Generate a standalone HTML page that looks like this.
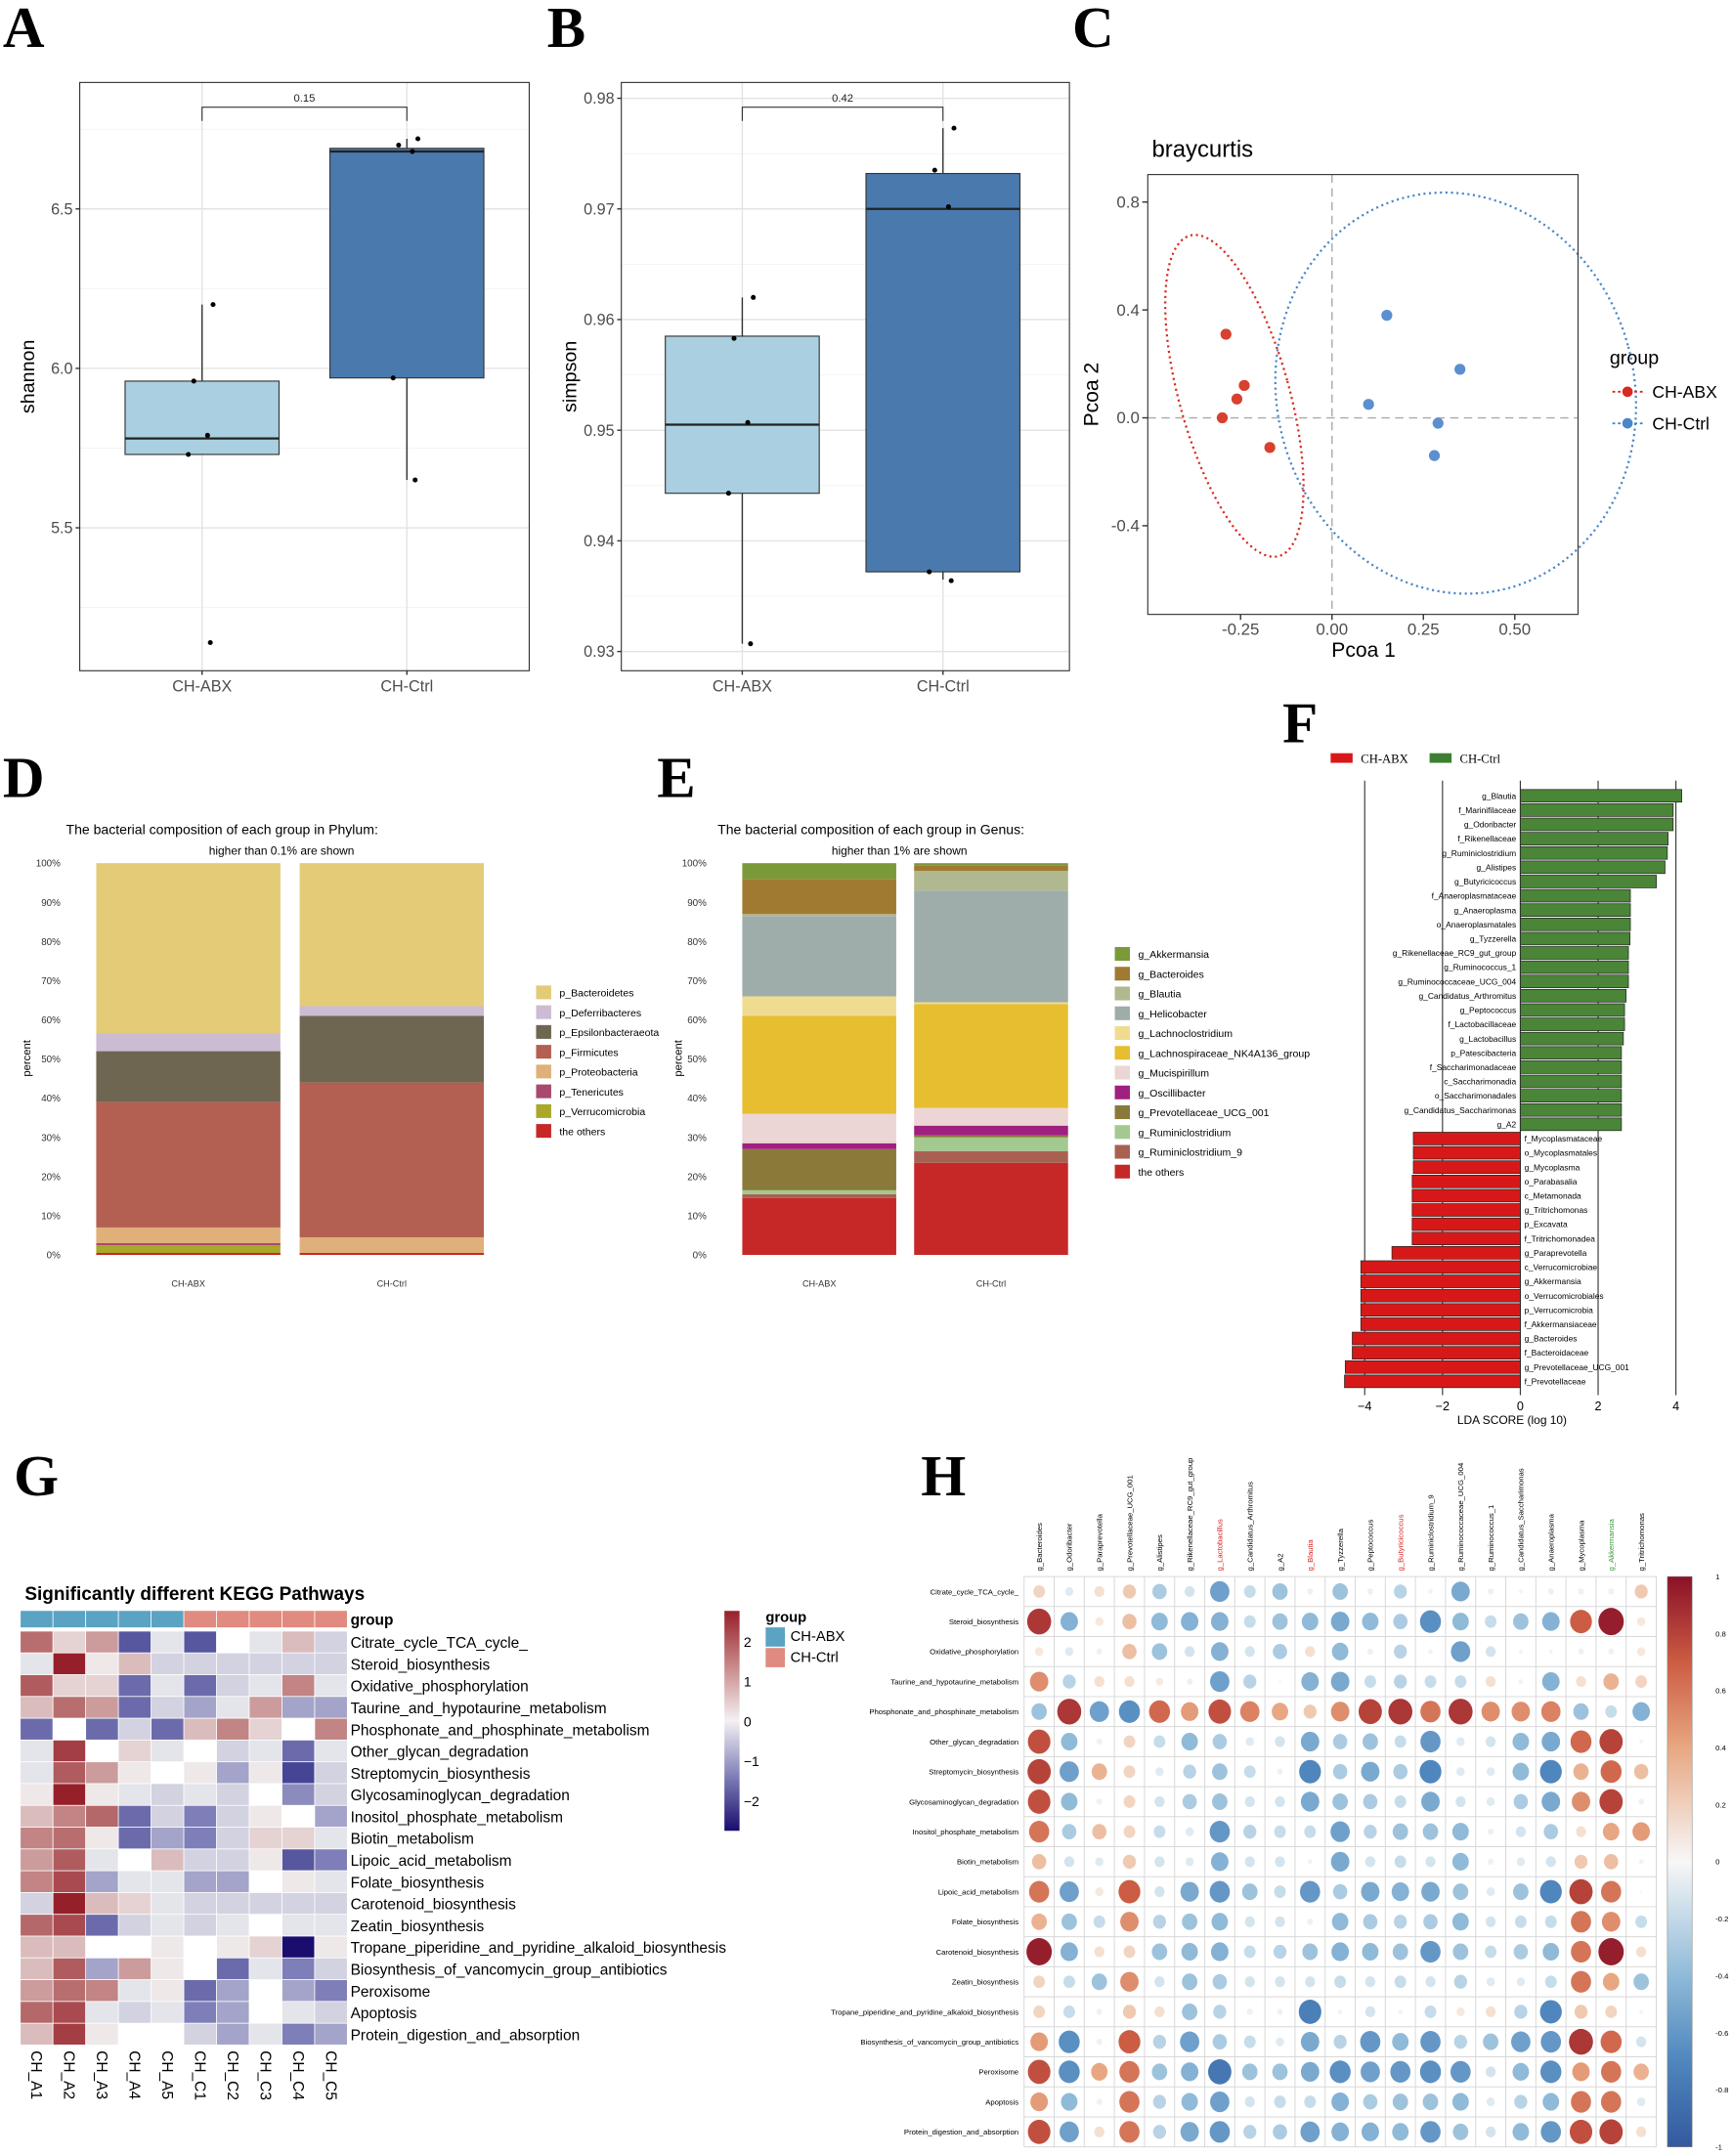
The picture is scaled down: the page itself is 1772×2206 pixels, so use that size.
<!DOCTYPE html>
<html><head><meta charset="utf-8">
<style>
html,body{margin:0;padding:0;background:#fff;}
svg{display:block;font-family:"Liberation Sans",Arial,sans-serif;}
.let{font-family:"Liberation Serif",serif;font-weight:bold;font-size:42px;}
</style></head>
<body>
<svg id="fig" width="1772" height="2206" viewBox="0 0 1260 1568.6" xmlns="http://www.w3.org/2000/svg">
<text class="let" x="2" y="34">A</text>
<text class="let" x="398" y="34">B</text>
<text class="let" x="780" y="34">C</text>
<text class="let" x="2" y="580">D</text>
<text class="let" x="478" y="580">E</text>
<text class="let" x="933" y="540">F</text>
<text class="let" x="10" y="1088">G</text>
<text class="let" x="670" y="1088">H</text>
<g id="root"></g>
</svg>
<script>
// ---------- DATA ----------
const boxGroups = ["CH-ABX","CH-Ctrl"];
const shannonPts = [[6.20,5.96,5.79,5.73,5.14],[6.72,6.70,6.68,5.97,5.65]];
const shannonBox = [[5.73,5.78,5.96,6.20,5.73],[5.97,6.68,6.69,6.72,5.65]]; // q1,med,q3,whiskerHi,whiskerLo
const shannonTicks = [5.5,6.0,6.5];
const simpsonPts = [[0.9620,0.9583,0.9507,0.9443,0.9307],[0.9773,0.9735,0.9702,0.9372,0.9364]];
const simpsonBox = [[0.9443,0.9505,0.9585,0.9620,0.9307],[0.9372,0.9700,0.9732,0.9773,0.9365]];
const simpsonTicks = [0.93,0.94,0.95,0.96,0.97,0.98];
const pcoaAbxX = [-0.29,-0.24,-0.26,-0.30,-0.17];
const pcoaAbxY = [0.31,0.12,0.07,0.00,-0.11];
const pcoaCtrlX = [0.15,0.35,0.10,0.29,0.28];
const pcoaCtrlY = [0.38,0.18,0.05,-0.02,-0.14];
const pcoaXTicks = [-0.25,0,0.25,0.5];
const pcoaYTicks = [-0.4,0,0.4,0.8];
const phylumNames = ["p_Bacteroidetes","p_Deferribacteres","p_Epsilonbacteraeota","p_Firmicutes","p_Proteobacteria","p_Tenericutes","p_Verrucomicrobia","the others"];
const phylumColors = ["#e3cb77","#cbbcd3","#6f6651","#b35f52","#e0b07a","#a9496e","#a9a82a","#c62828"];
const phylumAbx = [43.5,4.5,13,32,4,0.5,2,0.5];
const phylumCtrl = [36.5,2.5,17,39.5,4,0,0,0.5];
const genusNames = ["g_Akkermansia","g_Bacteroides","g_Blautia","g_Helicobacter","g_Lachnoclostridium","g_Lachnospiraceae_NK4A136_group","g_Mucispirillum","g_Oscillibacter","g_Prevotellaceae_UCG_001","g_Ruminiclostridium","g_Ruminiclostridium_9","the others"];
const genusColors = ["#7a9a3a","#a07a30","#b0b890","#9fadaa","#f0dc90","#e6be30","#ecd5d5","#a02080","#8a7a3a","#a3c890","#a86050","#c62828"];
const genusAbx = [4,9,0.5,20.5,5,25,7.5,1.5,10.5,1,1,14.5];
const genusCtrl = [0.5,1.5,5,28.5,0.5,26.5,4.5,2.5,0.5,3.5,3,23.5];
const pctTicks = [0,10,20,30,40,50,60,70,80,90,100];
const ldaNames = ["g_Blautia","f_Marinifilaceae","g_Odoribacter","f_Rikenellaceae","g_Ruminiclostridium","g_Alistipes","g_Butyricicoccus","f_Anaeroplasmataceae","g_Anaeroplasma","o_Anaeroplasmatales","g_Tyzzerella","g_Rikenellaceae_RC9_gut_group","g_Ruminococcus_1","g_Ruminococcaceae_UCG_004","g_Candidatus_Arthromitus","g_Peptococcus","f_Lactobacillaceae","g_Lactobacillus","p_Patescibacteria","f_Saccharimonadaceae","c_Saccharimonadia","o_Saccharimonadales","g_Candidatus_Saccharimonas","g_A2","f_Mycoplasmataceae","o_Mycoplasmatales","g_Mycoplasma","o_Parabasalia","c_Metamonada","g_Tritrichomonas","p_Excavata","f_Tritrichomonadea","g_Paraprevotella","c_Verrucomicrobiae","g_Akkermansia","o_Verrucomicrobiales","p_Verrucomicrobia","f_Akkermansiaceae","g_Bacteroides","f_Bacteroidaceae","g_Prevotellaceae_UCG_001","f_Prevotellaceae"];
const ldaScores = [4.15,3.93,3.93,3.8,3.78,3.72,3.5,2.83,2.83,2.83,2.82,2.78,2.78,2.78,2.72,2.68,2.68,2.65,2.6,2.6,2.6,2.6,2.6,2.6,-2.75,-2.75,-2.75,-2.78,-2.78,-2.78,-2.78,-2.78,-3.3,-4.1,-4.1,-4.1,-4.1,-4.1,-4.32,-4.32,-4.5,-4.52];
const ldaTicks = [-4,-2,0,2,4];
const pathways = ["Citrate_cycle_TCA_cycle_","Steroid_biosynthesis","Oxidative_phosphorylation","Taurine_and_hypotaurine_metabolism","Phosphonate_and_phosphinate_metabolism","Other_glycan_degradation","Streptomycin_biosynthesis","Glycosaminoglycan_degradation","Inositol_phosphate_metabolism","Biotin_metabolism","Lipoic_acid_metabolism","Folate_biosynthesis","Carotenoid_biosynthesis","Zeatin_biosynthesis","Tropane_piperidine_and_pyridine_alkaloid_biosynthesis","Biosynthesis_of_vancomycin_group_antibiotics","Peroxisome","Apoptosis","Protein_digestion_and_absorption"];
const samples = ["CH_A1","CH_A2","CH_A3","CH_A4","CH_A5","CH_C1","CH_C2","CH_C3","CH_C4","CH_C5"];
const keggZ = [
[1.2,0.3,0.8,-1.6,-0.1,-1.6,0,-0.1,0.5,-0.3],
[-0.1,2.5,0.1,0.5,-0.3,-0.3,-0.3,-0.3,-0.3,-0.3],
[1.5,0.3,0.3,-1.3,-0.1,-1.3,-0.3,-0.1,1.0,-0.1],
[0.5,1.2,0.8,-1.3,-0.3,-0.7,-0.1,0.8,-0.7,-0.7],
[-1.3,0,-1.3,-0.3,-1.3,0.5,1.0,0.3,0,1.0],
[-0.1,2.0,0,0.3,-0.1,0,-0.3,-0.1,-1.3,-0.1],
[-0.1,1.5,0.8,0.1,0,0.1,-0.7,0.1,-1.9,-0.3],
[0.1,2.5,0.1,-0.1,-0.3,-0.1,-0.3,0,-0.9,-0.3],
[0.5,1.0,1.3,-1.3,-0.3,-1.0,-0.3,0.1,0,-0.7],
[1.0,1.2,0.1,-1.3,-0.7,-1.0,-0.3,0.3,0.3,-0.1],
[0.8,1.5,-0.1,0,0.5,-0.3,-0.3,0.1,-1.6,-1.0],
[1.0,1.8,-0.7,-0.1,-0.1,-0.7,-0.7,0,0.1,-0.1],
[-0.3,2.5,0.5,0.3,-0.1,-0.3,-0.3,-0.3,-0.3,-0.3],
[1.3,1.8,-1.3,-0.3,-0.1,-0.3,-0.1,0,-0.1,-0.1],
[0.5,0.5,0,0,0.1,0,0.1,0.3,-3.0,0.1],
[0.5,1.5,-0.7,0.8,0.1,0,-1.3,-0.1,-1.0,-0.3],
[0.8,1.2,1.0,-0.1,0.1,-1.3,-0.7,0,-0.7,-1.0],
[1.3,1.8,-0.1,-0.3,-0.1,-1.0,-0.7,0,-0.1,-0.3],
[0.5,2.0,0.1,0,0,-0.3,-0.7,-0.1,-1.0,-0.7]];
const keggTicks = [2,1,0,-1,-2];
const genera = ["g_Bacteroides","g_Odoribacter","g_Paraprevotella","g_Prevotellaceae_UCG_001","g_Alistipes","g_Rikenellaceae_RC9_gut_group","g_Lactobacillus","g_Candidatus_Arthromitus","g_A2","g_Blautia","g_Tyzzerella","g_Peptococcus","g_Butyricicoccus","g_Ruminiclostridium_9","g_Ruminococcaceae_UCG_004","g_Ruminococcus_1","g_Candidatus_Saccharimonas","g_Anaeroplasma","g_Mycoplasma","g_Akkermansia","g_Tritrichomonas"];
const generaColor = ["#000","#000","#000","#000","#000","#000","#d62020","#000","#000","#d62020","#000","#000","#d62020","#000","#000","#000","#000","#000","#000","#3a9a3a","#000"];
const corr = [
[0.2,-0.1,0.15,0.25,-0.3,-0.15,-0.55,-0.2,-0.35,0.05,-0.35,-0.05,-0.25,-0.03,-0.5,-0.05,-0.02,-0.05,0.05,0.05,0.25],
[0.85,-0.45,0.1,0.3,-0.4,-0.45,-0.45,-0.2,-0.35,-0.4,-0.5,-0.4,-0.3,-0.65,-0.4,-0.2,-0.35,-0.45,0.7,0.95,0.1],
[0.1,-0.1,0.05,0.3,-0.35,-0.15,-0.45,-0.15,-0.3,0.15,-0.4,-0.05,-0.25,-0.03,-0.55,-0.15,-0.02,-0.02,0.05,0.05,0.1],
[0.5,-0.25,0.15,0.15,0.08,-0.05,-0.55,-0.25,-0.01,-0.45,-0.5,-0.2,-0.25,-0.2,-0.2,0.15,-0.03,-0.45,0.15,0.35,0.2],
[-0.35,0.85,-0.55,-0.65,0.65,0.45,0.75,0.55,0.4,0.25,0.5,0.8,0.85,0.6,0.85,0.5,0.5,0.55,-0.35,-0.2,-0.45],
[0.75,-0.4,0.05,0.2,-0.2,-0.4,-0.3,-0.1,-0.15,-0.5,-0.3,-0.35,-0.2,-0.6,-0.1,-0.15,-0.4,-0.5,0.65,0.8,0.02],
[0.8,-0.55,0.35,0.2,-0.1,-0.25,-0.35,-0.2,-0.05,-0.7,-0.3,-0.5,-0.3,-0.7,-0.1,-0.1,-0.4,-0.7,0.35,0.65,0.3],
[0.75,-0.4,0.05,0.2,-0.15,-0.3,-0.35,-0.15,-0.15,-0.5,-0.35,-0.3,-0.2,-0.5,-0.15,-0.1,-0.3,-0.5,0.5,0.8,0.05],
[0.6,-0.3,0.3,0.2,-0.2,-0.1,-0.6,-0.25,-0.2,-0.2,-0.55,-0.25,-0.35,-0.35,-0.4,-0.05,-0.15,-0.3,0.15,0.4,0.45],
[0.3,-0.15,-0.1,0.25,-0.15,-0.1,-0.45,-0.15,-0.15,0.03,-0.5,-0.15,-0.2,-0.15,-0.4,-0.05,-0.1,-0.15,0.25,0.3,0.03],
[0.6,-0.55,0.1,0.7,-0.15,-0.5,-0.6,-0.35,-0.2,-0.6,-0.3,-0.5,-0.45,-0.5,-0.35,-0.1,-0.35,-0.7,0.8,0.6,0.01],
[0.35,-0.35,-0.2,0.5,-0.25,-0.35,-0.4,-0.15,-0.15,-0.05,-0.4,-0.3,-0.25,-0.3,-0.4,-0.15,-0.2,-0.2,0.6,0.5,-0.2],
[0.95,-0.45,0.15,0.2,-0.35,-0.4,-0.45,-0.2,-0.25,-0.35,-0.45,-0.4,-0.35,-0.6,-0.35,-0.2,-0.3,-0.4,0.6,0.95,0.15],
[0.2,-0.2,-0.35,0.5,-0.15,-0.35,-0.3,-0.15,-0.15,-0.15,-0.2,-0.15,-0.2,-0.15,-0.25,-0.1,-0.1,-0.2,0.6,0.4,-0.35],
[0.2,-0.2,0.05,0.25,0.15,-0.35,-0.25,-0.05,-0.05,-0.75,-0.03,-0.15,-0.03,-0.2,0.1,0.15,-0.25,-0.7,0.25,0.2,0.02],
[0.45,-0.65,0.05,0.7,-0.25,-0.55,-0.3,-0.2,-0.1,-0.5,-0.25,-0.6,-0.4,-0.6,-0.25,-0.35,-0.55,-0.6,0.85,0.65,-0.15],
[0.75,-0.65,0.4,0.6,-0.35,-0.45,-0.8,-0.35,-0.35,-0.5,-0.65,-0.55,-0.6,-0.65,-0.6,-0.15,-0.4,-0.65,0.45,0.6,0.35],
[0.45,-0.4,0.05,0.6,-0.25,-0.4,-0.55,-0.15,-0.2,-0.2,-0.45,-0.3,-0.35,-0.35,-0.4,-0.1,-0.25,-0.4,0.6,0.6,-0.1],
[0.75,-0.55,0.15,0.6,-0.25,-0.5,-0.6,-0.25,-0.3,-0.55,-0.45,-0.45,-0.4,-0.6,-0.35,-0.15,-0.4,-0.6,0.75,0.8,0.15]];
const corrTicks = ["1","0.8","0.6","0.4","0.2","0","-0.2","-0.4","-0.6","-0.8","-1"];

// ---------- HELPERS ----------
const NS="http://www.w3.org/2000/svg";
const root=document.getElementById('root');
function mk(tag,attrs,parent){const e=document.createElementNS(NS,tag);for(const k in attrs)e.setAttribute(k,attrs[k]);(parent||root).appendChild(e);return e;}
function txt(s,attrs,parent){const e=mk('text',attrs,parent);e.textContent=s;return e;}
function lerpColor(stops,v){
  if(v<=stops[0][0])return stops[0][1];
  for(let i=1;i<stops.length;i++){if(v<=stops[i][0]){const a=stops[i-1],b=stops[i];const t=(v-a[0])/(b[0]-a[0]);
    const ca=[1,3,5].map(k=>parseInt(a[1].substr(k,2),16)),cb=[1,3,5].map(k=>parseInt(b[1].substr(k,2),16));
    return 'rgb('+ca.map((c,j)=>Math.round(c+(cb[j]-c)*t)).join(',')+')';}}
  return stops[stops.length-1][1];}

// ---------- PANEL A & B (box plots) ----------
function boxPanel(px0,px1,py0,py1,yScale,ticks,minor,boxes,pts,centers,pval,ylab,fmt,tag){
  const g=mk('g',{});
  
  
  minor.forEach(v=>{const l=mk('line',{x1:px0,x2:px1,y1:yScale(v),y2:yScale(v),stroke:'#f2f2f2','stroke-width':0.6},g);
    
    });
  ticks.forEach(v=>{const l=mk('line',{x1:px0,x2:px1,y1:yScale(v),y2:yScale(v),stroke:'#e3e3e3','stroke-width':1},g);
    
    
    const t=txt(fmt(v),{x:px0-5,y:yScale(v)+4,'text-anchor':'end','font-size':11.5,fill:'#4d4d4d'},g);
    
    
    mk('line',{x1:px0-3,x2:px0,y1:yScale(v),y2:yScale(v),stroke:'#333'},g);});
  centers.forEach((cx,i)=>{mk('line',{x1:cx,x2:cx,y1:py0,y2:py1,stroke:'#e3e3e3'},g);
    const t=txt(boxGroups[i],{x:cx,y:py1+15,'text-anchor':'middle','font-size':11.5,fill:'#4d4d4d'},g);
    
    
    mk('line',{x1:cx,x2:cx,y1:py1,y2:py1+3,stroke:'#333'},g);});
  const fills=['#a9cfe0','#4a7aad'];
  boxes.forEach((b,i)=>{const cx=centers[i],hw=56;
    const w1=mk('line',{x1:cx,x2:cx,y1:yScale(b[3]),y2:yScale(b[2]),stroke:'#333'},g);
    
    
    const w2=mk('line',{x1:cx,x2:cx,y1:yScale(b[0]),y2:yScale(b[4]),stroke:'#333'},g);
    
    
    const r=mk('rect',{x:cx-hw,y:yScale(b[2]),width:2*hw,height:yScale(b[0])-yScale(b[2]),fill:fills[i],stroke:'#333','stroke-width':0.8},g);
    
    
    const m=mk('line',{x1:cx-hw,x2:cx+hw,y1:yScale(b[1]),y2:yScale(b[1]),stroke:'#222','stroke-width':1.6},g);
    
    });
  const jit=[8,-6,4,-10,6];
  pts.forEach((arr,i)=>arr.forEach((v,k)=>{const c=mk('circle',{cx:centers[i]+jit[k],cy:yScale(v),r:1.8,fill:'#000'},g);
    
    }));
  const br=mk('path',{d:`M${centers[0]} 88 V78 H${centers[1]} V88`,fill:'none',stroke:'#333','stroke-width':0.8},g);
  
  
  const pv=txt(pval,{x:(centers[0]+centers[1])/2,y:74,'text-anchor':'middle','font-size':8,fill:'#222'},g);
  
  
  const fr=mk('rect',{x:px0,y:py0,width:px1-px0,height:py1-py0,fill:'none',stroke:'#333','stroke-width':0.8},g);
  
  
  const yl=txt(ylab,{x:0,y:0,transform:`translate(${px0-33},${(py0+py1)/2}) rotate(-90)`,'text-anchor':'middle','font-size':14,fill:'#000'},g);
  
  
}
const yA=v=>268-(v-6.0)*232;
boxPanel(58,385,60,488,yA,shannonTicks,[5.25,5.75,6.25,6.75],shannonBox,shannonPts,[147,296],'0.15','shannon',v=>v.toFixed(1),'shannon');
const yB=v=>313-(v-0.95)*8050;
boxPanel(452,778,60,488,yB,simpsonTicks,[0.935,0.945,0.955,0.965,0.975],simpsonBox,simpsonPts,[540,686],'0.42','simpson',v=>v.toFixed(2),'simpson');

// ---------- PANEL C (PCoA) ----------
(function(){
  const xC=v=>969+v*266, yC=v=>304-v*196.25;
  const g=mk('g',{});
  
  
  const tt=txt('braycurtis',{x:838,y:114,'font-size':17,fill:'#000'},g);
  
  
  mk('line',{x1:xC(0),x2:xC(0),y1:127,y2:447,stroke:'#aaa','stroke-dasharray':'6,4'},g);
  mk('line',{x1:835,x2:1148,y1:yC(0),y2:yC(0),stroke:'#aaa','stroke-dasharray':'6,4'},g);
  const e1=mk('ellipse',{cx:898,cy:288,rx:40,ry:121,transform:'rotate(-15.5 898 288)',fill:'none',stroke:'#d62a20','stroke-width':1.6,'stroke-dasharray':'1.5,2.5'},g);
  
  
  const e2=mk('ellipse',{cx:1059,cy:286,rx:130,ry:147,transform:'rotate(-15 1059 286)',fill:'none',stroke:'#4a86c8','stroke-width':1.6,'stroke-dasharray':'1.5,2.5'},g);
  
  
  pcoaAbxX.forEach((v,i)=>{const c=mk('circle',{cx:xC(v),cy:yC(pcoaAbxY[i]),r:4,fill:'#d8402f'},g);
    
    });
  pcoaCtrlX.forEach((v,i)=>{const c=mk('circle',{cx:xC(v),cy:yC(pcoaCtrlY[i]),r:4,fill:'#5b8fd0'},g);
    
    });
  const fr=mk('rect',{x:835,y:127,width:313,height:320,fill:'none',stroke:'#333','stroke-width':0.8},g);
  
  
  pcoaXTicks.forEach(v=>{mk('line',{x1:xC(v),x2:xC(v),y1:447,y2:451,stroke:'#333'},g);
    const t=txt(v.toFixed(2),{x:xC(v),y:462,'text-anchor':'middle','font-size':12,fill:'#4d4d4d'},g);
    
    });
  pcoaYTicks.forEach(v=>{mk('line',{x1:831,x2:835,y1:yC(v),y2:yC(v),stroke:'#333'},g);
    const t=txt(v.toFixed(1),{x:829,y:yC(v)+4,'text-anchor':'end','font-size':12,fill:'#4d4d4d'},g);
    
    });
  const xl=txt('Pcoa 1',{x:992,y:478,'text-anchor':'middle','font-size':15,fill:'#000'},g);
  
  
  const yl=txt('Pcoa 2',{x:0,y:0,transform:'translate(799,287) rotate(-90)','text-anchor':'middle','font-size':15,fill:'#000'},g);
  
  
  const lg=txt('group',{x:1171,y:265,'font-size':14,fill:'#000'},g);
  
  
  [['CH-ABX','#d62a20',285],['CH-Ctrl','#4a86c8',308]].forEach(d=>{
    mk('line',{x1:1173,x2:1195,y1:d[2],y2:d[2],stroke:d[1],'stroke-dasharray':'2,2','stroke-width':1.3},g);
    mk('circle',{cx:1184,cy:d[2],r:3.8,fill:d[1]},g);
    const t=txt(d[0],{x:1202,y:d[2]+4.5,'font-size':12.5,fill:'#000'},g);
    
    });
})();

// ---------- PANELS D & E (stacked bars) ----------
function stackPanel(tx,title,sub,subx,b1x,b2x,bw,names,colors,v1,v2,legX,legY0,tag){
  const yP=p=>913-p*2.85;
  const g=mk('g',{});
  
  
  const t1=txt(title,{x:tx,y:607,'font-size':10,fill:'#000'},g);
  
  
  const t2=txt(sub,{x:subx,y:622,'font-size':8.5,fill:'#000'},g);
  
  
  pctTicks.forEach(p=>{const t=txt(p+'%',{x:b1x-26,y:yP(p)+2.5,'text-anchor':'end','font-size':7,fill:'#333'},g);
    
    });
  const yl=txt('percent',{x:0,y:0,transform:`translate(${tx-26},770) rotate(-90)`,'text-anchor':'middle','font-size':8,fill:'#000'},g);
  
  
  [[b1x,v1,'CH-ABX'],[b2x,v2,'CH-Ctrl']].forEach(d=>{let acc=0;
    for(let i=names.length-1;i>=0;i--){const v=d[1][i];if(v<=0)continue;
      const r=mk('rect',{x:d[0],y:yP(acc+v),width:bw,height:v*2.85,fill:colors[i]},g);
      
      acc+=v;}
    const xt=txt(d[2],{x:d[0]+bw/2,y:936,'text-anchor':'middle','font-size':6.5,fill:'#333'},g);
    
    });
  names.forEach((n,i)=>{const y=legY0+i*14.4;
    const s=mk('rect',{x:legX,y:y-5,width:11,height:10,fill:colors[i]},g);
    
    
    const t=txt(n,{x:legX+17,y:y+3,'font-size':7.5,fill:'#000'},g);
    
    });
}
stackPanel(48,'The bacterial composition of each group in Phylum:','higher than 0.1% are shown',152,70,218,134,phylumNames,phylumColors,phylumAbx,phylumCtrl,390,722,'phylum');
stackPanel(522,'The bacterial composition of each group in Genus:','higher than 1% are shown',605,540,665,112,genusNames,genusColors,genusAbx,genusCtrl,811,694,'genus');

// ---------- PANEL F (LDA) ----------
(function(){
  const xF=v=>1106+v*28.3;
  const g=mk('g',{});
  
  
  [['CH-ABX','#d81818',968],['CH-Ctrl','#3f7f33',1040]].forEach(d=>{
    const s=mk('rect',{x:d[2],y:548,width:16,height:7,fill:d[1]},g);
    
    
    const t=txt(d[0],{x:d[2]+22,y:555,'font-family':'Liberation Serif,serif','font-size':9,fill:'#000'},g);
    
    });
  ldaTicks.forEach(v=>{const l=mk('line',{x1:xF(v),x2:xF(v),y1:568,y2:1015,stroke:'#333','stroke-width':0.8},g);
    
    
    const t=txt(v<0?'\u2212'+(-v):String(v),{x:xF(v),y:1026,'text-anchor':'middle','font-size':9,fill:'#000'},g);
    
    });
  ldaNames.forEach((n,i)=>{const v=ldaScores[i],y=579+i*10.39;
    const x0=xF(Math.min(0,v)),w=Math.abs(xF(v)-xF(0));
    const r=mk('rect',{x:x0,y:y-4.6,width:w,height:9.2,fill:v>0?'#4a8538':'#d81818',stroke:'#222','stroke-width':0.5},g);
    
    
    const t=txt(n,{x:v>0?xF(0)-3:xF(0)+3,y:y+2.2,'text-anchor':v>0?'end':'start','font-size':6,fill:'#000'},g);
    
    });
  const xl=txt('LDA SCORE (log 10)',{x:1100,y:1036,'text-anchor':'middle','font-size':8.5,fill:'#000'},g);
  
  
})();

// ---------- PANEL G (KEGG heatmap) ----------
(function(){
  const g=mk('g',{});
  
  
  const stops=[[-3,'#1a0d6e'],[-1.8,'#4a4a98'],[-1,'#7e7eb8'],[-0.4,'#c9c9dc'],[-0.05,'#e8e8ee'],[0,'#ffffff'],[0.1,'#eee8e8'],[0.5,'#dbbcbc'],[1.2,'#b86e6e'],[2.5,'#96202a']];
  const t=txt('Significantly different KEGG Pathways',{x:18,y:1164,'font-size':13.5,'font-weight':'bold',fill:'#000'},g);
  
  
  const cw=23.8,ch=15.85,x0=15,y0=1187;
  samples.forEach((s,j)=>{const r=mk('rect',{x:x0+j*cw,y:1172,width:cw-0.6,height:12,fill:j<5?'#5ba3c2':'#e08a80'},g);
    
    
    const l=txt(s,{x:0,y:0,transform:`translate(${x0+j*cw+cw/2-4},1492) rotate(90)`,'font-size':11,fill:'#000'},g);
    
    });
  const gl=txt('group',{x:255,y:1182,'font-size':11,'font-weight':'bold',fill:'#000'},g);
  
  
  pathways.forEach((p,i)=>{keggZ[i].forEach((v,j)=>{const r=mk('rect',{x:x0+j*cw,y:y0+i*ch,width:cw-0.6,height:ch-0.6,fill:lerpColor(stops,v)},g);
      
      });
    const l=txt(p,{x:255,y:y0+i*ch+ch/2+4,'font-size':11,fill:'#000'},g);
    
    });
  const gr=mk('linearGradient',{id:'ggrad',x1:0,y1:0,x2:0,y2:1},document.getElementById('fig'));
  [[0,'#96202a'],[0.25,'#c88888'],[0.5,'#f4f0f4'],[0.75,'#8080b8'],[1,'#1a0d6e']].forEach(s=>mk('stop',{offset:s[0],'stop-color':s[1]},gr));
  const cb=mk('rect',{x:527,y:1172,width:11,height:160,fill:'url(#ggrad)'},g);
  
  
  keggTicks.forEach((v,k)=>{const y=1252-v*29;
    const tl=txt(v<0?'\u2212'+(-v):String(v),{x:541,y:y+4,'font-size':10,fill:'#000'},g);
    
    });
  const lg=txt('group',{x:557,y:1180,'font-size':10.5,'font-weight':'bold',fill:'#000'},g);
  
  
  [['CH-ABX','#5ba3c2',1184],['CH-Ctrl','#e08a80',1199]].forEach(d=>{
    const s=mk('rect',{x:557,y:d[2],width:14,height:14,fill:d[1]},g);
    
    
    const tl=txt(d[0],{x:575,y:d[2]+10,'font-size':10.5,fill:'#000'},g);
    
    });
})();

// ---------- PANEL H (correlation) ----------
(function(){
  const g=mk('g',{});
  
  
  const stops=[[-1,'#34599e'],[-0.7,'#4f86bd'],[-0.4,'#8fbad8'],[-0.15,'#d3e4ee'],[0,'#f7f7f7'],[0.15,'#f5e0d0'],[0.4,'#e8a782'],[0.7,'#cc5c43'],[1,'#8a1128']];
  const cw=21.9,ch=21.84,x0=745,y0=1147;
  for(let i=0;i<=pathways.length;i++)mk('line',{x1:x0,x2:x0+cw*genera.length,y1:y0+i*ch,y2:y0+i*ch,stroke:'#d8d8d8','stroke-width':0.7},g);
  for(let j=0;j<=genera.length;j++)mk('line',{x1:x0+j*cw,x2:x0+j*cw,y1:y0,y2:y0+ch*pathways.length,stroke:'#d8d8d8','stroke-width':0.7},g);
  genera.forEach((n,j)=>{const t=txt(n,{x:0,y:0,transform:`translate(${x0+j*cw+cw/2+2},${y0-4}) rotate(-90)`,'font-size':5.5,fill:generaColor[j]},g);
    
    });
  pathways.forEach((p,i)=>{const t=txt(p,{x:x0-4,y:y0+i*ch+ch/2+2,'text-anchor':'end','font-size':5.5,fill:'#000'},g);
    
    
    corr[i].forEach((v,j)=>{const rad=Math.sqrt(Math.abs(v))*10.2;
      const c=mk('ellipse',{cx:x0+j*cw+cw/2,cy:y0+i*ch+ch/2,rx:rad*0.93,ry:rad,fill:lerpColor(stops,v)},g);
      
      });});
  const gr=mk('linearGradient',{id:'hgrad',x1:0,y1:0,x2:0,y2:1},document.getElementById('fig'));
  [[0,'#8a1128'],[0.15,'#cc5c43'],[0.3,'#e8a782'],[0.5,'#f7f7f7'],[0.7,'#8fbad8'],[0.85,'#4f86bd'],[1,'#34599e']].forEach(s=>mk('stop',{offset:s[0],'stop-color':s[1]},gr));
  const cb=mk('rect',{x:1213,y:1147,width:18,height:415,fill:'url(#hgrad)',stroke:'#888','stroke-width':0.4},g);
  
  
  corrTicks.forEach((s,k)=>{const t=txt(s,{x:1248,y:1147+k*41.5+2,'font-size':5.5,fill:'#000'},g);
    
    });
})();
</script>
</body></html>
